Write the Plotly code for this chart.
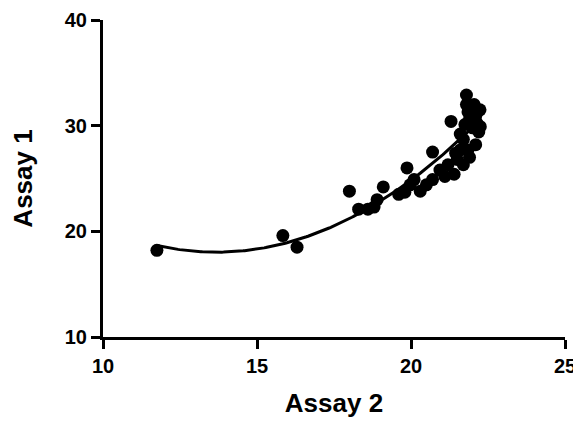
import numpy as np
import plotly.graph_objects as go

assay2 = [11.75, 15.84, 16.3, 18.0, 18.3, 18.6, 18.8, 18.9, 19.1, 19.87, 19.6, 19.8, 19.97, 20.1, 20.3,
          20.7, 20.7, 20.94, 21.2, 21.3, 21.4, 21.5, 21.6, 21.7, 21.75, 21.8, 21.8, 22.24, 21.9, 22.1,
          22.2, 21.9, 21.6, 21.85, 21.7, 22.0, 22.15, 21.45, 20.5, 21.1, 22.25, 21.95,
          21.9, 22.0, 22.1, 21.85, 22.05, 21.95]
assay1 = [18.2, 19.6, 18.5, 23.8, 22.1, 22.1, 22.3, 23.0, 24.2, 26.0, 23.5, 23.7, 24.4, 24.9, 23.8,
          24.9, 27.5, 25.8, 26.3, 30.4, 25.4, 26.8, 27.7, 28.7, 30.1, 32.0, 32.9, 31.5, 27.0, 28.2,
          29.4, 30.6, 29.2, 27.7, 26.3, 29.8, 30.2, 27.4, 24.4, 25.2, 29.9, 31.0,
          31.8, 31.2, 30.9, 31.3, 32.0, 30.3]

x_ticks = [10, 15, 20, 25]
y_ticks = [10, 20, 30, 40]

# second-order polynomial fit through the data
coef = np.polyfit(assay2, assay1, 2)
xf = np.linspace(min(assay2), max(assay2), 200)
yf = np.polyval(coef, xf)

fig = go.Figure()
fig.add_trace(go.Scatter(x=xf, y=yf, mode="lines", line=dict(color="black", width=3),
                         hoverinfo="skip", showlegend=False))
fig.add_trace(go.Scatter(x=assay2, y=assay1, mode="markers",
                         marker=dict(color="black", size=13), showlegend=False))

font = "Liberation Sans, Arial, sans-serif"
axis_common = dict(showline=True, linecolor="black", linewidth=3, ticks="outside",
                   ticklen=9, tickwidth=3, tickcolor="black", showgrid=False, zeroline=False,
                   automargin=False,
                   tickfont=dict(family=font, size=20, color="black", weight="bold"))
fig.update_xaxes(range=[10, 25], tickvals=x_ticks,
                 title=dict(text="<b>Assay 2</b>", font=dict(family=font, size=26, color="black"), standoff=18),
                 **axis_common)
fig.update_yaxes(range=[10, 40], tickvals=y_ticks,
                 title=dict(text="<b>Assay 1</b>", font=dict(family=font, size=26, color="black"), standoff=28),
                 **axis_common)
fig.update_layout(width=573, height=418, margin=dict(l=95, r=16, t=12, b=89),
                  plot_bgcolor="white", paper_bgcolor="white")
fig.write_html("out.html")
